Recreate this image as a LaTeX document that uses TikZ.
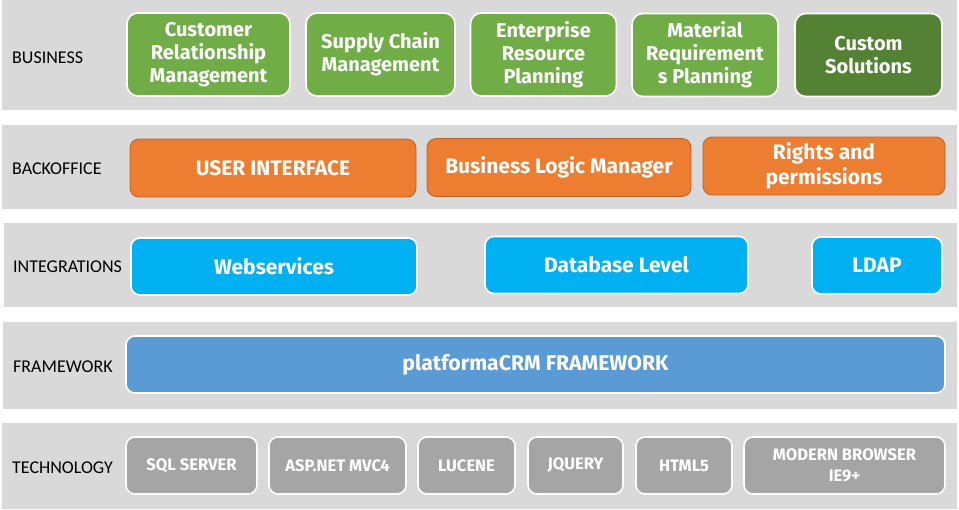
\documentclass[tikz,border=0pt]{standalone}
\usepackage{fontspec}
\setmainfont{Carlito}
\newfontfamily\boxfont{Fira Sans}
\definecolor{band}{HTML}{D9D9D9}
\definecolor{bgreen}{HTML}{70AD47}
\definecolor{dgreen}{HTML}{548235}
\definecolor{borange}{HTML}{ED7D31}
\definecolor{eorange}{HTML}{B8622A}
\definecolor{bcyan}{HTML}{00B0F0}
\definecolor{bblue}{HTML}{5B9BD5}
\definecolor{bgray}{HTML}{A5A5A5}
\begin{document}
\begin{tikzpicture}[x=1pt,y=-1pt,
  layerlabel/.style={anchor=west,inner sep=0pt,font=\fontsize{18}{18}\selectfont,text=black},
  boxbase/.style={rounded corners=9pt,line width=1.6pt,draw=white,text=white,align=center,inner sep=0pt,
    font=\boxfont\bfseries\fontsize{20}{23}\selectfont},
  biz/.style={boxbase,fill=bgreen,rounded corners=11pt,minimum height=83pt},
  bizdark/.style={biz,fill=dgreen},
  back/.style={boxbase,fill=borange,draw=eorange,line width=0.8pt,minimum height=58pt,
    font=\boxfont\bfseries\fontsize{21}{25}\selectfont},
  integ/.style={boxbase,fill=bcyan,minimum height=57pt,font=\boxfont\bfseries\fontsize{21}{25}\selectfont},
  frame/.style={boxbase,fill=bblue,minimum height=57pt,font=\boxfont\bfseries\fontsize{21.2}{25}\selectfont},
  tech/.style={boxbase,fill=bgray,minimum height=57pt,font=\boxfont\bfseries\fontsize{16.6}{21.5}\selectfont},
]
\useasboundingbox (0,0) rectangle (959,509);
\fill[white] (0,0) rectangle (959,509);
% bands
\fill[band] (2,0) rectangle (957,110);
\fill[band] (2,125) rectangle (957,209);
\fill[band] (4,223) rectangle (957,307);
\fill[band] (3,322) rectangle (957,409);
\fill[band] (2,423) rectangle (957,509);
% labels
\node[layerlabel] (lbus) at (12,57.5) {BUSINESS};
\node[layerlabel] (lback) at (12,168.5) {BACKOFFICE};
\node[layerlabel] (lint) at (13,266.5) {INTEGRATIONS};
\node[layerlabel] (lfra) at (13,366.5) {FRAMEWORK};
\node[layerlabel] (ltec) at (12,467.5) {TECHNOLOGY};
% business
\node[biz,minimum width=163pt] (crm) at (208.5,54.5) {Customer\\Relationship\\Management};
\node[biz,minimum width=149pt] (scm) at (380.5,54.5) {Supply Chain\\Management};
\node[biz,minimum width=146pt] (erp) at (543.5,54.5) {Enterprise\\Resource\\Planning};
\node[biz,minimum width=146pt] (mrp) at (705,55) {Material\\Requirement\\s Planning};
\node[bizdark,minimum width=147pt] (cus) at (868.5,55) {Custom\\Solutions};
% backoffice
\node[back,minimum width=286pt] (ui) at (273,168) {USER INTERFACE};
\node[back,minimum width=264pt] (blm) at (559,167.5) {Business Logic Manager};
\node[back,minimum width=242pt] (rp) at (824,166) {Rights and\\permissions};
% integrations
\node[integ,minimum width=286pt] (ws) at (274,266.5) {Webservices};
\node[integ,minimum width=263pt] (db) at (616.5,265) {Database Level};
\node[integ,minimum width=130pt] (ldap) at (877,265.5) {LDAP};
% framework
\node[frame,minimum width=819pt] (fw) at (535.5,364.5) {platformaCRM FRAMEWORK};
% technology
\node[tech,minimum width=131pt] (sql) at (191.5,465.5) {SQL SERVER};
\node[tech,minimum width=137pt] (asp) at (337.5,465.5) {ASP.NET MVC4};
\node[tech,minimum width=97pt] (luc) at (466.5,465.5) {LUCENE};
\node[tech,minimum width=95pt] (jq) at (575.5,465.5) {JQUERY};
\node[tech,minimum width=96pt] (html) at (684,465.5) {HTML5};
\node[tech,minimum width=201pt] (mod) at (844.5,465.5) {MODERN BROWSER\\IE9+};
\end{tikzpicture}
\end{document}
